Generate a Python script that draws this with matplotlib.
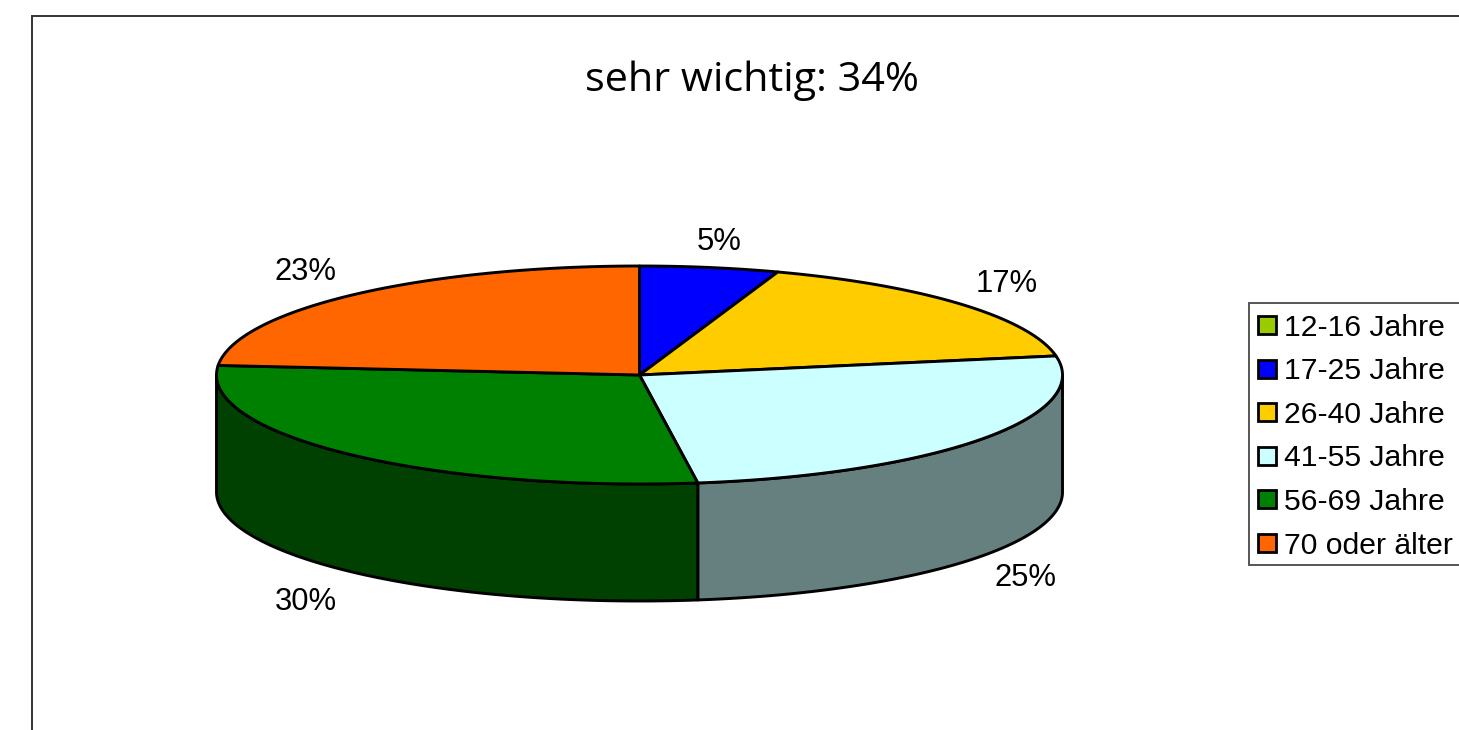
import numpy as np
import matplotlib
matplotlib.use("Agg")
import matplotlib.pyplot as plt
from matplotlib.patches import Polygon, Rectangle

title = "sehr wichtig: 34%"
categories = ["12-16 Jahre", "17-25 Jahre", "26-40 Jahre", "41-55 Jahre", "56-69 Jahre", "70 oder älter"]
# shares as measured from slice geometry
shares = [0.0, 5.3, 16.9, 25.6, 28.6, 23.6]
labels = ["", "5%", "17%", "25%", "30%", "23%"]
colors = ["#99CC00", "#0000FF", "#FFCC00", "#CCFFFF", "#008000", "#FF6600"]
side_colors = ["#4D6600", "#000080", "#806600", "#668080", "#004000", "#803300"]
label_x = [None, 719, 1007, 1025, 306, 306]
label_y = [None, 241.5, 284.5, 577.5, 601.5, 271.5]

W, H = 1459, 730
CX, CY, RX, RY, DEPTH = 639.5, 375, 423, 109, 117

fig = plt.figure(figsize=(W / 100, H / 100), dpi=100)
ax = fig.add_axes([0, 0, 1, 1])
ax.set_xlim(0, W)
ax.set_ylim(H, 0)
ax.axis("off")

# chart frame (runs off the right and bottom edges)
ax.plot([W + 5, 31.5, 31.5], [15.5, 15.5, H + 5], color="#333333", lw=1.4, solid_joinstyle="miter", zorder=1)


def rim(a0, a1, n=240):
    t = np.radians(np.linspace(a0, a1, n))
    return CX + RX * np.sin(t), CY - RY * np.cos(t)


edges = np.cumsum([0.0] + shares) * 3.6
LW = 2.1

# side walls: only the front half (90..270 degrees) is visible
for i, c in enumerate(side_colors):
    a0, a1 = max(edges[i], 90), min(edges[i + 1], 270)
    if a1 <= a0:
        continue
    x, y = rim(a0, a1)
    pts = np.r_[np.c_[x, y], np.c_[x[::-1], y[::-1] + DEPTH]]
    ax.add_patch(Polygon(pts, closed=True, fc=c, ec="black", lw=LW, joinstyle="round", zorder=2))

# top face
for i, c in enumerate(colors):
    if shares[i] == 0:
        continue
    x, y = rim(edges[i], edges[i + 1])
    pts = np.r_[[[CX, CY]], np.c_[x, y]]
    ax.add_patch(Polygon(pts, closed=True, fc=c, ec="black", lw=LW, joinstyle="round", zorder=3))

for lx, ly, s in zip(label_x, label_y, labels):
    if s:
        ax.text(lx, ly, s, ha="center", va="center", fontsize=22.3, family="Liberation Sans", color="black", zorder=5)

ax.text(752, 81, title, ha="center", va="center", fontsize=29.8, family="Open Sans", color="black", zorder=5)

# legend
ax.plot([W + 5, 1248.5, 1248.5, W + 5], [302.5, 302.5, 564.5, 564.5], color="#555555", lw=1.4, solid_joinstyle="miter", zorder=4)
for i, (cat, c) in enumerate(zip(categories, colors)):
    yc = 325 + i * 43.6
    ax.add_patch(Rectangle((1257.5, yc - 9), 18, 18, fc=c, ec="black", lw=2.0, zorder=5))
    ax.text(1284, yc + 2.5, cat, ha="left", va="center", fontsize=21.7, family="Liberation Sans", color="black", zorder=5)

fig.savefig("out.png", dpi=100)
